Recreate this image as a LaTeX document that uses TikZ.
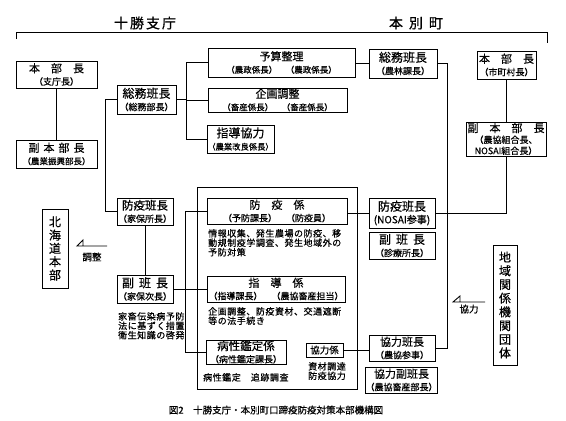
\documentclass[tikz,border=0pt]{standalone}
\usepackage{fontspec}
\setmainfont{Noto Sans CJK JP}[FakeBold=0.5]
\newfontfamily\jpsp[LetterSpace=6,FakeBold=0.5]{Noto Sans CJK JP}
\newcommand\jfs[2]{\fontsize{#1}{#2}\selectfont}
\begin{document}
\begin{tikzpicture}[x=1pt,y=-1pt,
  bx/.style={draw, line width=0.9pt, inner sep=0pt, align=center, font=\jfs{11}{12.5}},
  ln/.style={line width=0.9pt},
  para/.style={inner sep=0pt, align=left, anchor=north west, font=\jpsp\jfs{9}{9.4}},
  ttl/.style={inner sep=0pt, font=\jfs{14}{16}}]
\fill[white] (0,0) rectangle (566,421);
\useasboundingbox (0,0) rectangle (566,421);

% headers
\node[ttl] (tt) at (145,23) {十\hspace{2pt}勝\hspace{2pt}支\hspace{2pt}庁};
\node[ttl] (th) at (416,23) {本\hspace{6pt}別\hspace{6pt}町};
\coordinate (hl) at (16,39);
\coordinate (hr) at (547,43);
\draw[ln] (hl) -- (16,32) -- (547,32) -- (hr);

% Tokachi side
\node[bx, minimum width=81pt, minimum height=27pt] (hqt) at (56.5,74.5) {本　部　長\\{\jfs{9}{9}（支庁長）}};
\node[bx, minimum width=81pt, minimum height=28pt] (vhqt) at (56.5,154) {副\hspace{4pt}本\hspace{4pt}部\hspace{4pt}長\\{\jfs{8.5}{9}（農業振興部長）}};
\node[bx, minimum width=59pt, minimum height=29pt] (smt) at (146.5,99.5) {{\jfs{12}{12}総務班長}\\{\jfs{9}{9}（総務部長）}};
\node[bx, minimum width=147pt, minimum height=29pt] (yosan) at (281.5,62.5) {予算整理\\{\jfs{8.5}{9}（農政係長）　（農政係長）}};
\node[bx, minimum width=139pt, minimum height=24pt] (kikaku) at (277.5,100) {企画調整\\{\jfs{8.5}{9}（畜産係長）　（畜産係長）}};
\node[bx, minimum width=67pt, minimum height=28pt] (shido) at (240.5,139) {{\jfs{12}{12}指導協力}\\{\jfs{8.3}{9}（農業改良係長）}};

\node[bx, minimum width=56pt, minimum height=27pt] (boekit) at (145,211.5) {{\jfs{11.5}{12}防疫班長}\\{\jfs{9}{9}（家保所長）}};
\node[bx, minimum width=56pt, minimum height=28pt] (fukut) at (145,289) {{\jfs{12}{12}副\hspace{5pt}班\hspace{5pt}長}\\{\jfs{9}{9}（家保次長）}};
\node[para] (p1) at (118,312) {家畜伝染病予防\\法に基ずく措置\\衛生知識の啓発};

\node[bx, minimum width=26pt, minimum height=79pt, font=\jfs{12}{13.3}] (hok) at (55,248.5) {北\\海\\道\\本\\部};
\coordinate (a1) at (107,246);
\coordinate (a1tip) at (77,246);
\draw[ln] (a1) -- (a1tip) -- ++(6,-6) -- ++(0,6);
\node[inner sep=0pt, font=\jfs{9.5}{10}] (l1) at (92,257) {調整};

% big box
\node[draw, line width=0.9pt, minimum width=160pt, minimum height=202pt, inner sep=0pt] (big) at (277,288) {};
\node[bx, minimum width=140pt, minimum height=26pt] (bkg) at (277,211) {防　疫　係\\{\jfs{9}{9}（予防課長）　（防疫員）}};
\node[para] (p2) at (208,229) {情報収集、発生農場の防疫、移\\動規制疫学調査、発生地域外の\\予防対策};
\node[bx, minimum width=138pt, minimum height=26pt] (sdg) at (276,289) {指　導　係\\{\jfs{9}{9}（指導課長）　（農協畜産担当）}};
\node[para] (p3) at (208,307) {企画調整、防疫資材、交通遮断\\等の法手続き};
\node[bx, minimum width=80pt, minimum height=24pt] (byo) at (246,352) {{\jfs{11.5}{11}病性鑑定係}\\{\jfs{9}{9}（病性鑑定課長）}};
\node[para] (p4) at (203,373) {病性鑑定　追跡調査};
\node[bx, minimum width=37pt, minimum height=14pt, font=\jfs{9.5}{10}] (kyg) at (324.5,350) {協力係};
\node[para] (p5) at (308,362) {資材調達\\防疫協力};

% Honbetsu side
\node[bx, minimum width=68pt, minimum height=29pt] (smh) at (403,63.5) {{\jfs{12}{12}総務班長}\\{\jfs{9}{9}（農林課長）}};
\node[bx, minimum width=59pt, minimum height=28pt] (hqh) at (506.5,65) {本　部　長\\{\jfs{9}{9}（市町村長）}};
\node[bx, minimum width=80pt, minimum height=34pt, font=\jfs{11}{11}] (vhqh) at (506,139) {副　本　部　長\\{\jfs{9}{9}（農協組合長、}\\{\jfs{9}{9}NOSAI組合長）}};
\node[bx, minimum width=66pt, minimum height=30pt] (boekih) at (402,213) {{\jfs{12}{12}防疫班長}\\{\jfs{10}{10}(NOSAI参事)}};
\node[bx, minimum width=66pt, minimum height=27pt] (fukuh) at (402,245.5) {{\jfs{12}{12}副\hspace{5pt}班\hspace{5pt}長}\\{\jfs{9}{9}（診療所長）}};
\node[bx, minimum width=66pt, minimum height=26pt] (kyh) at (402,348) {協力班長\\{\jfs{9}{9}（農協参事）}};
\node[bx, minimum width=69pt, minimum height=26pt] (kyfh) at (401.5,380) {協力副班長\\{\jfs{9}{9}（農協畜産部長）}};
\node[bx, minimum width=24pt, minimum height=120pt, font=\jfs{12}{13.7}] (chi) at (505,305) {地\\域\\関\\係\\機\\関\\団\\体};
\coordinate (a2) at (485,302);
\coordinate (a2tip) at (453,302);
\draw[ln] (a2) -- (a2tip) -- ++(7,-6) -- ++(0,6);
\node[inner sep=0pt, font=\jfs{9.5}{10}] (l2) at (469,309) {協力};

% connectors
\draw[ln] (hqt) -- (vhqt);
\draw[ln] (smt.west) -- ++(-11,0) |- (boekit.west);
\draw[ln] (yosan.west) -- ++(-21,0) coordinate (b1) -- (b1 |- shido.west) -- (shido.west);
\draw[ln] (kikaku.west) -- (kikaku.west -| b1);
\draw[ln] (smt.east) -- (smt.east -| b1);
\draw[ln] (smh.west) -- (smh.west -| yosan.east);
\draw[ln] (smh.east) -- ++(10,0) coordinate (c1) -- (c1 |- kyh.east) -- (kyh.east);
\draw[ln] (hqh.south) -- (hqh.south |- vhqh.north);
\draw[ln] (vhqh.south) |- (boekih.east);
\draw[ln] (boekih.west) -- (boekih.west -| bkg.east);
\draw[ln] (bkg.west) -- ++(-21,0) coordinate (d1) -- (d1 |- byo.west) -- (byo.west);
\draw[ln] (fukut.east) -- (sdg.west);
\draw[ln] (boekit) -- (fukut);
\draw[ln] (kyg.east) -- (kyg.east -| kyh.west);

% caption
\node[inner sep=0pt, font=\jfs{9.5}{10}] (cap) at (276,410) {図2　十勝支庁・本別町口蹄疫防疫対策本部機構図};
\end{tikzpicture}
\end{document}
